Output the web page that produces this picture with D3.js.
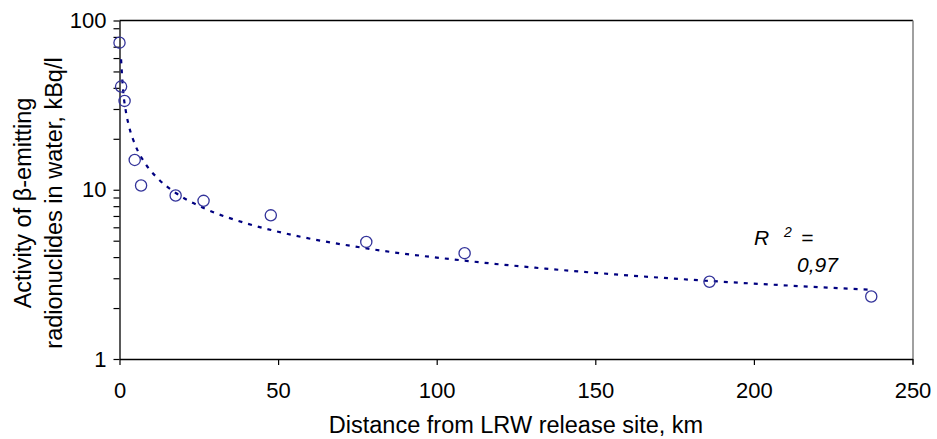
<!DOCTYPE html>
<html>
<head>
<meta charset="utf-8">
<script src="https://cdn.jsdelivr.net/npm/d3@7"></script>
<style>
  body { margin: 0; background: #fff; }
  svg { display: block; font-family: Arial, "Liberation Sans", sans-serif; }
</style>
</head>
<body>
<svg id="chart" width="937" height="439"></svg>
<script>
// measured points (distance km, activity kBq/l)
var distKm = [0, 0.5, 1.6, 4.8, 6.8, 17.7, 26.5, 47.7, 77.8, 108.8, 186, 237];
var activity = [74, 40.7, 33.5, 15.0, 10.6, 9.25, 8.6, 7.06, 4.92, 4.22, 2.86, 2.34];

// trend line
var trendX = [0.5, 1, 2, 3, 5, 8, 12, 18, 27, 40, 50, 78, 110, 150, 185, 236];
var trendY = [59, 41.5, 29.1, 23.7, 18.3, 14.4, 11.7, 9.5, 7.73, 6.33, 5.65, 4.5, 3.79, 3.23, 2.9, 2.57];

var xTicks = [0, 50, 100, 150, 200, 250];
var yTicks = [1, 2, 3, 4, 5, 6, 7, 8, 9, 10, 20, 30, 40, 50, 60, 70, 80, 90, 100];
var yLabelled = [1, 10, 100];

(function () {
  var svg = d3.select("#chart");

  // plot box (note: "top" is reserved on window, so use pl/pr/pt/pb)
  var pl = 119.5, pr = 912.5, pt = 20.5, pb = 359;

  var x = d3.scaleLinear().domain([0, 250]).range([pl, pr]);
  var y = d3.scaleLog().domain([1, 100]).range([pb, pt]);

  // frame: top black, right grey
  svg.append("line")
    .attr("x1", pl).attr("x2", pr + 0.5)
    .attr("y1", pt).attr("y2", pt)
    .attr("stroke", "#000").attr("stroke-width", 1.3);
  svg.append("line")
    .attr("x1", pr + 0.5).attr("x2", pr + 0.5)
    .attr("y1", pt).attr("y2", pb + 5)
    .attr("stroke", "#808080").attr("stroke-width", 1.5);

  // x axis
  var xAxis = svg.append("g")
    .attr("transform", "translate(0," + pb + ")")
    .call(d3.axisBottom(x).tickValues(xTicks).tickSize(6).tickSizeOuter(0).tickPadding(17));
  xAxis.select(".domain").attr("stroke-width", 1.3);
  xAxis.selectAll(".tick line").attr("stroke-width", 1.2);
  xAxis.selectAll("text").attr("font-size", 22).attr("fill", "#000")
    .attr("font-family", "Arial, 'Liberation Sans', sans-serif");

  // y axis
  var yAxis = svg.append("g")
    .attr("transform", "translate(" + pl + ",0)")
    .call(d3.axisLeft(y).tickValues(yTicks).tickSize(6).tickSizeOuter(0).tickPadding(7)
      .tickFormat(function (d) { return yLabelled.indexOf(d) >= 0 ? d : ""; }));
  yAxis.select(".domain").attr("stroke-width", 1.3);
  yAxis.selectAll(".tick line").attr("stroke-width", 1.2);
  yAxis.selectAll("text").attr("font-size", 22).attr("fill", "#000")
    .attr("font-family", "Arial, 'Liberation Sans', sans-serif");

  // trend line
  var line = d3.line()
    .x(function (d) { return x(d[0]); })
    .y(function (d) { return y(d[1]); })
    .curve(d3.curveMonotoneX);

  svg.append("path")
    .datum(d3.zip(trendX, trendY))
    .attr("d", line)
    .attr("fill", "none")
    .attr("stroke", "#000080")
    .attr("stroke-width", 2.2)
    .attr("stroke-dasharray", "4,6");

  // points
  svg.append("g")
    .selectAll("circle")
    .data(d3.zip(distKm, activity))
    .enter().append("circle")
    .attr("cx", function (d) { return x(d[0]); })
    .attr("cy", function (d) { return y(d[1]); })
    .attr("r", 5.6)
    .attr("fill", "none")
    .attr("stroke", "#33339a")
    .attr("stroke-width", 1.3);

  // R² note
  var note = svg.append("text")
    .attr("font-size", 21)
    .attr("font-style", "italic")
    .attr("fill", "#000");
  note.append("tspan").attr("x", 754).attr("y", 245).text("R");
  note.append("tspan").attr("x", 784).attr("y", 237).attr("font-size", 14).text("2");
  note.append("tspan").attr("x", 801).attr("y", 245).text("=");
  svg.append("text")
    .attr("x", 797).attr("y", 272)
    .attr("font-size", 21)
    .attr("font-style", "italic")
    .text("0,97");

  // axis titles
  svg.append("text")
    .attr("x", (pl + pr) / 2)
    .attr("y", 433)
    .attr("text-anchor", "middle")
    .attr("font-size", 23.5)
    .text("Distance from LRW release site, km");

  var yTitle = svg.append("text")
    .attr("transform", "translate(0,203) rotate(-90)")
    .attr("text-anchor", "middle")
    .attr("font-size", 23.5);
  yTitle.append("tspan").attr("x", 0).attr("y", 31).text("Activity of β-emitting");
  yTitle.append("tspan").attr("x", 0).attr("y", 62).text("radionuclides in water, kBq/l");
})();
</script>
</body>
</html>
